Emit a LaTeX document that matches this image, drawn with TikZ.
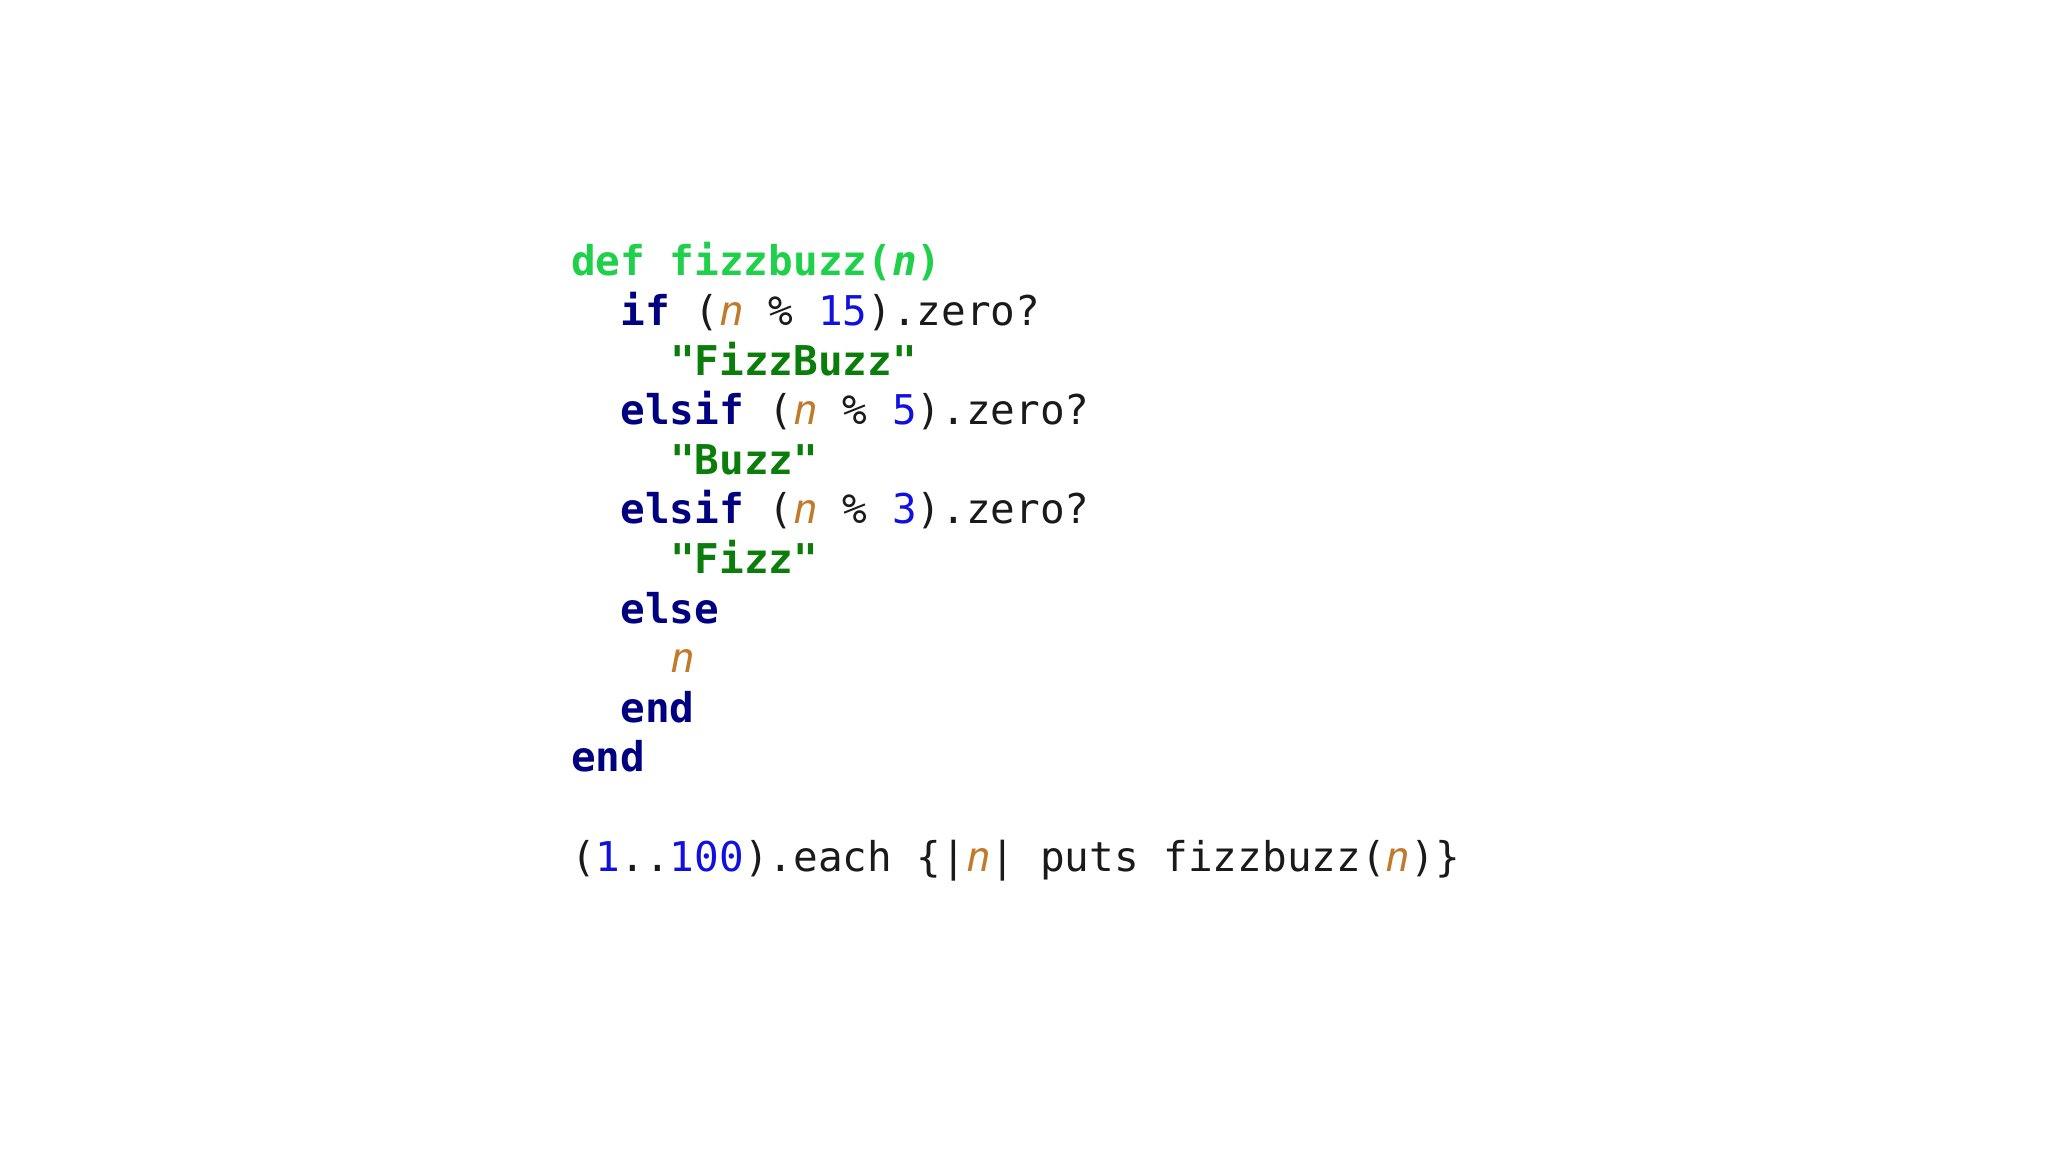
\documentclass[tikz,border=0pt]{standalone}
\usepackage{fontspec}
\setmonofont{DejaVu Sans Mono}
\definecolor{defg}{HTML}{1ED04A}
\definecolor{kw}{HTML}{000080}
\definecolor{str}{HTML}{0A7D0A}
\definecolor{num}{HTML}{1010E0}
\definecolor{var}{HTML}{C07A2A}
\definecolor{txt}{HTML}{1A1A1A}
\newcommand{\K}[1]{\textbf{\textcolor{kw}{#1}}}
\newcommand{\Sx}[1]{\textbf{\textcolor{str}{#1}}}
\newcommand{\N}[1]{\textcolor{num}{#1}}
\newcommand{\V}{\textit{\textcolor{var}{n}}}
\begin{document}
\begin{tikzpicture}[x=1pt,y=1pt,
  code/.style={anchor=base west,inner sep=0pt,font=\ttfamily\fontsize{20.5}{24}\selectfont,text=txt}]
\useasboundingbox[fill=white] (0,0) rectangle (1024,575);
\def\dy{24.8}
\def\cw{12.35}
\node[code] (l1) at (285.4,437) {\textbf{\textcolor{defg}{def fizzbuzz(\textit{n})}}};
\node[code] (l2) at (285.4+2*\cw,437-1*\dy) {\K{if} (\V{} \% \N{15}).zero?};
\node[code] (l3) at (285.4+4*\cw,437-2*\dy) {\Sx{"FizzBuzz"}};
\node[code] (l4) at (285.4+2*\cw,437-3*\dy) {\K{elsif} (\V{} \% \N{5}).zero?};
\node[code] (l5) at (285.4+4*\cw,437-4*\dy) {\Sx{"Buzz"}};
\node[code] (l6) at (285.4+2*\cw,437-5*\dy) {\K{elsif} (\V{} \% \N{3}).zero?};
\node[code] (l7) at (285.4+4*\cw,437-6*\dy) {\Sx{"Fizz"}};
\node[code] (l8) at (285.4+2*\cw,437-7*\dy) {\K{else}};
\node[code] (l9) at (285.4+4*\cw,437-8*\dy) {\V};
\node[code] (l10) at (285.4+2*\cw,437-9*\dy) {\K{end}};
\node[code] (l11) at (285.4,437-10*\dy) {\K{end}};
\node[code] (l12) at (285.4,437-12*\dy) {(\N{1}..\N{100}).each \{|\V| puts fizzbuzz(\V)\}};
\end{tikzpicture}
\end{document}
